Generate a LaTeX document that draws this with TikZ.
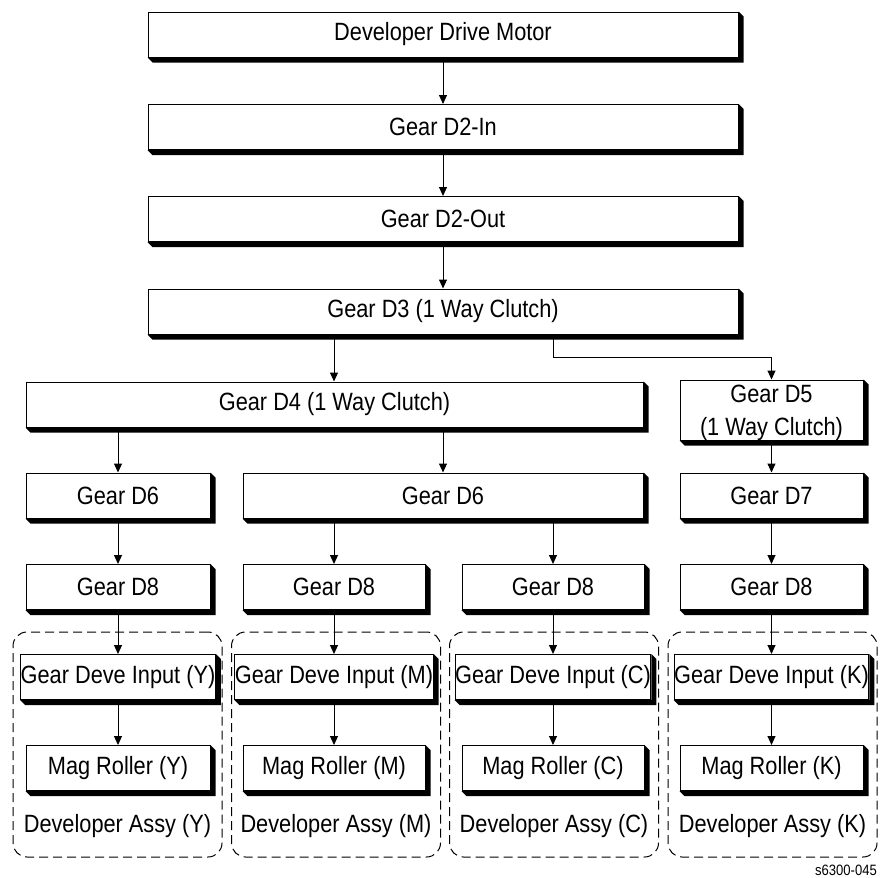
\documentclass[tikz,border=0pt]{standalone}
\usepackage{fontspec}
\setmainfont{Liberation Sans}[FakeStretch=0.87]
\usetikzlibrary{arrows.meta}

\begin{document}
\begin{tikzpicture}[x=1pt,y=1pt,
  gear/.style={draw=black, line width=1pt, fill=white, inner sep=0pt, minimum height=45pt, align=center, font=\fontsize{25}{33}\selectfont},
  flow/.style={line width=1pt, -{Triangle[length=9pt,width=8pt]}},
  assy/.style={draw=black, line width=1pt, dash pattern=on 9pt off 5pt, rounded corners=14pt, minimum width=209pt, minimum height=225pt, inner sep=0pt},
  assylabel/.style={inner sep=0pt, font=\fontsize{25}{33}\selectfont}]
\useasboundingbox (0,0) rectangle (881,-878);
\node[assy] (assyy) at (117.5,-744.5) {};
\node[assy] (assym) at (336,-744.5) {};
\node[assy] (assyc) at (554,-744.5) {};
\node[assy] (assyk) at (772.5,-744.5) {};
\node[assylabel] (laby) at (117.5,-826) {Developer Assy (Y)};
\node[assylabel] (labm) at (336,-826) {Developer Assy (M)};
\node[assylabel] (labc) at (554,-826) {Developer Assy (C)};
\node[assylabel] (labk) at (772.5,-826) {Developer Assy (K)};
\node[gear, minimum width=590pt] (motor) at (443,-34.5) {Developer Drive Motor};
\node[gear, minimum width=590pt] (d2in) at (443,-127) {Gear D2-In};
\node[gear, minimum width=590pt] (d2out) at (443,-219) {Gear D2-Out};
\node[gear, minimum width=590pt] (d3) at (443,-311.5) {Gear D3 (1 Way Clutch)};
\node[gear, minimum width=617pt] (d4) at (334.5,-404.5) {Gear D4 (1 Way Clutch)};
\node[gear, minimum width=183pt, minimum height=60pt, text depth=0pt] (d5) at (771.5,-410) {Gear D5\\(1 Way Clutch)};
\node[gear, minimum width=184pt] (d6y) at (118,-495.5) {Gear D6};
\node[gear, minimum width=400pt] (d6mc) at (443,-495.5) {Gear D6};
\node[gear, minimum width=183pt] (d7) at (771.5,-495.5) {Gear D7};
\node[gear, minimum width=184pt] (d8y) at (118,-587) {Gear D8};
\node[gear, minimum width=182pt] (d8m) at (334,-587) {Gear D8};
\node[gear, minimum width=182pt] (d8c) at (553,-587) {Gear D8};
\node[gear, minimum width=183pt] (d8k) at (771.5,-587) {Gear D8};
\node[gear, minimum width=184pt] (iny) at (118,-677) {Gear Deve Input (Y)};
\node[gear, minimum width=182pt] (inm) at (334,-677) {Gear Deve Input (M)};
\node[gear, minimum width=182pt] (inc) at (553,-677) {Gear Deve Input (C)};
\node[gear, minimum width=183pt] (ink) at (771.5,-677) {Gear Deve Input (K)};
\node[gear, minimum width=184pt] (magy) at (118,-768) {Mag Roller (Y)};
\node[gear, minimum width=182pt] (magm) at (334,-768) {Mag Roller (M)};
\node[gear, minimum width=182pt] (magc) at (553,-768) {Mag Roller (C)};
\node[gear, minimum width=183pt] (magk) at (771.5,-768) {Mag Roller (K)};
\node[anchor=base east, inner sep=0pt, font=\fontsize{15}{18}\selectfont] (figid) at (877,-875.5) {s6300-045};
\foreach \n in {motor,d2in,d2out,d3,d4,d5,d6y,d6mc,d7,d8y,d8m,d8c,d8k,iny,inm,inc,ink,magy,magm,magc,magk}
  \fill[black] (\n.north east) -- ++(5,-5) -- ([shift={(5,-5)}]\n.south east) -- ([shift={(5,-5)}]\n.south west) -- (\n.south west) -- (\n.south east) -- cycle;
\draw[flow] (motor) -- (d2in);
\draw[flow] (d2in) -- (d2out);
\draw[flow] (d2out) -- (d3);
\draw[flow] (d3.south -| d8m.north) -- (d4.north -| d8m.north);
\draw[flow] (d3.south -| d8c.north) -- ++(0,-23) -| (d5.north);
\draw[flow] (d4.south -| d6y.north) -- (d6y.north);
\draw[flow] (d4.south -| d6mc.north) -- (d6mc.north);
\draw[flow] (d5) -- (d7);
\draw[flow] (d7) -- (d8k);
\draw[flow] (d6y) -- (d8y);
\draw[flow] (d6mc.south -| d8m.north) -- (d8m.north);
\draw[flow] (d6mc.south -| d8c.north) -- (d8c.north);
\foreach \c in {y,m,c,k} {
  \draw[flow] (d8\c) -- (in\c);
  \draw[flow] (in\c) -- (mag\c);
}
\end{tikzpicture}
\end{document}
